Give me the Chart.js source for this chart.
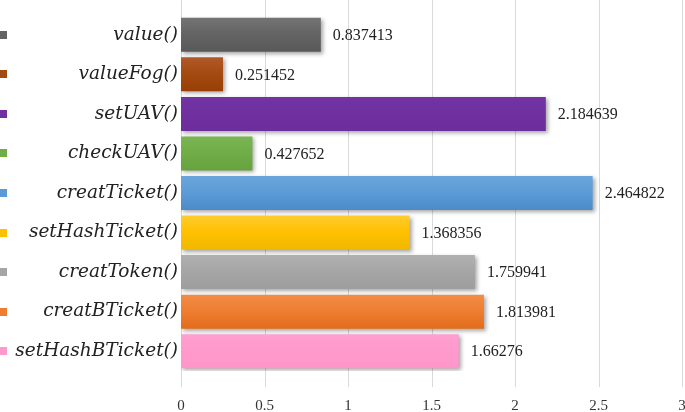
<!DOCTYPE html>
<html>
<head>
<meta charset="utf-8">
<script src="https://cdn.jsdelivr.net/npm/chart.js@4"></script>
<style>
  html, body { margin: 0; padding: 0; background: #fff; }
  #wrap { width: 685px; height: 412px; position: relative; }
</style>
</head>
<body>
<div id="wrap"><canvas id="barras"></canvas></div>
<script>
var categorias = ['value()', 'valueFog()', 'setUAV()', 'checkUAV()', 'creatTicket()', 'setHashTicket()', 'creatToken()', 'creatBTicket()', 'setHashBTicket()'];
var valores = [0.837413, 0.251452, 2.184639, 0.427652, 2.464822, 1.368356, 1.759941, 1.813981, 1.66276];
var rotulos = ['0.837413', '0.251452', '2.184639', '0.427652', '2.464822', '1.368356', '1.759941', '1.813981', '1.66276'];
var cores = ['#636363', '#a24a0f', '#7030a0', '#70ad47', '#5b9bd5', '#ffc000', '#a5a5a5', '#ed7d31', '#ff99cc'];
var coresClaras = ['#747474', '#b2582a', '#7234a2', '#7ab553', '#6ba5dc', '#ffcb2e', '#b0b0b0', '#f28c46', '#ff9fd0'];
var coresEscuras = ['#595959', '#973f06', '#6c2e9b', '#66a23e', '#4c8bc8', '#f0b800', '#9d9d9d', '#e36c1b', '#ff96c9'];
var ticksX = [0, 0.5, 1, 1.5, 2, 2.5, 3];

function gradiente(context) {
    var chart = context.chart;
    var i = context.dataIndex;
    if (!chart.chartArea) return cores[i];
    var y = chart.scales.y;
    var centro = y.getPixelForValue(i);
    var meia = y.getPixelForValue(1) - y.getPixelForValue(0);
    meia = meia * 0.86 / 2;
    var g = chart.ctx.createLinearGradient(0, centro - meia, 0, centro + meia);
    g.addColorStop(0, coresClaras[i]);
    g.addColorStop(0.5, cores[i]);
    g.addColorStop(1, coresEscuras[i]);
    return g;
}

// grade vertical, quadradinhos da legenda e sombra das barras
var extras = {
    id: 'extras',
    beforeDatasetsDraw: function(chart) {
        var ctx = chart.ctx;
        var x = chart.scales.x;
        var y = chart.scales.y;
        ctx.save();
        ctx.strokeStyle = '#d9d9d9';
        ctx.lineWidth = 1;
        ticksX.forEach(function(t) {
            var px = Math.round(x.getPixelForValue(t)) + 0.5;
            ctx.beginPath();
            ctx.moveTo(px, 0);
            ctx.lineTo(px, 387);
            ctx.stroke();
        });
        categorias.forEach(function(c, i) {
            var py = y.getPixelForValue(i);
            ctx.fillStyle = cores[i];
            ctx.fillRect(0, Math.round(py) - 4, 7, 8);
        });
        ctx.restore();
        ctx.save();
        ctx.shadowColor = 'rgba(0,0,0,0.35)';
        ctx.shadowBlur = 4;
        ctx.shadowOffsetX = 2;
        ctx.shadowOffsetY = 2;
    },
    afterDatasetsDraw: function(chart) {
        var ctx = chart.ctx;
        ctx.restore();
        var x = chart.scales.x;
        var y = chart.scales.y;
        ctx.save();
        ctx.font = '16px "Liberation Serif"';
        ctx.fillStyle = '#222';
        ctx.textBaseline = 'middle';
        ctx.textAlign = 'left';
        valores.forEach(function(v, i) {
            ctx.fillText(rotulos[i], x.getPixelForValue(v) + 12, y.getPixelForValue(i) + 1);
        });
        ctx.restore();
    }
};

new Chart(document.getElementById('barras').getContext('2d'), {
    type: 'bar',
    data: {
        labels: categorias,
        datasets: [{
            data: valores,
            backgroundColor: gradiente,
            borderWidth: 0,
            barPercentage: 0.86,
            categoryPercentage: 1
        }]
    },
    plugins: [extras],
    options: {
        indexAxis: 'y',
        responsive: true,
        maintainAspectRatio: false,
        animation: false,
        layout: { padding: { top: 15, right: 3, left: 0, bottom: 0 } },
        plugins: {
            legend: { display: false },
            tooltip: { enabled: false }
        },
        scales: {
            x: {
                min: 0,
                max: 3,
                border: { display: false },
                grid: { display: false, drawTicks: false },
                afterFit: function(scale) {
                    scale.height = 41;
                    scale.paddingRight = 0;
                    scale.paddingLeft = 0;
                },
                afterBuildTicks: function(scale) {
                    scale.ticks = ticksX.map(function(t) { return { value: t }; });
                },
                ticks: {
                    padding: 26,
                    maxRotation: 0,
                    minRotation: 0,
                    autoSkip: false,
                    color: '#333',
                    font: { family: '"Liberation Serif"', size: 15 },
                    callback: function(v) { return String(v); }
                }
            },
            y: {
                border: { display: false },
                grid: { display: false, drawTicks: false },
                afterFit: function(scale) { scale.width = 181; },
                ticks: {
                    padding: 3,
                    color: '#222',
                    font: { family: '"DejaVu Serif"', size: 18.5, style: 'italic' }
                }
            }
        }
    }
});
</script>
</body>
</html>
